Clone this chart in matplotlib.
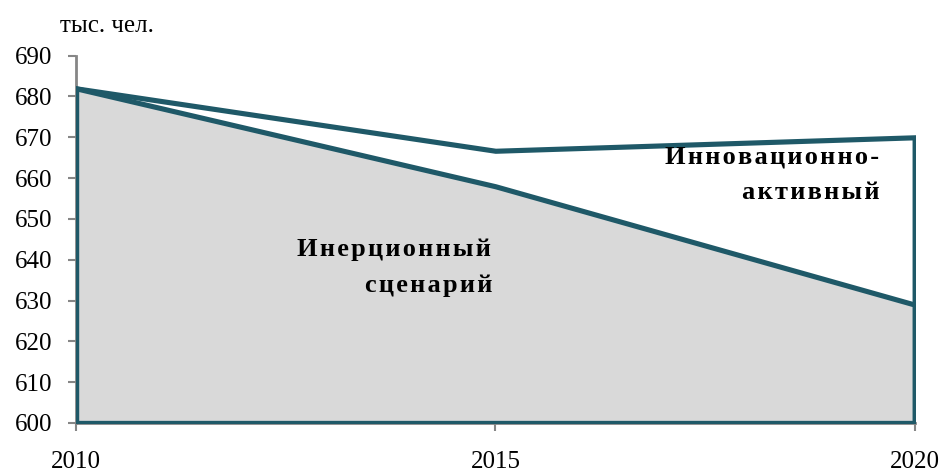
import matplotlib.pyplot as plt

years = [2010, 2015, 2020]
innovative = [682, 666.7, 670]
inertial = [682, 658, 629]
y_ticks = list(range(600, 691, 10))

teal = '#1f5968'
grey = '#d9d9d9'
axis_grey = '#868686'

plt.rcParams['font.family'] = ['Liberation Serif', 'DejaVu Serif']


def spaced(s):
    # the labels in the original have slightly wide letter spacing
    return '\u200a'.join(s)


fig = plt.figure(figsize=(9.4, 4.72), dpi=100)
ax = fig.add_axes([0.081, 0.104, 0.892, 0.778])

# innovation scenario behind, white fill
ax.fill_between(years, 600, innovative, facecolor='white', edgecolor=teal,
                linewidth=3.7, joinstyle='miter', zorder=2)
# inertial scenario on top, grey fill
ax.fill_between(years, 600, inertial, facecolor=grey, edgecolor=teal,
                linewidth=3.7, joinstyle='miter', zorder=3)

ax.set_xlim(2010, 2020)
ax.set_ylim(600, 690)
ax.set_yticks(y_ticks)
ax.set_xticks(years)

for s in ['top', 'right']:
    ax.spines[s].set_visible(False)
for s in ['left', 'bottom']:
    ax.spines[s].set_color(axis_grey)
    ax.spines[s].set_linewidth(2)
    ax.spines[s].set_zorder(1)

ax.tick_params(axis='y', direction='out', length=6, width=1.5, color=axis_grey,
               labelsize=18, pad=11)
ax.tick_params(axis='x', direction='out', length=6, width=1.5, color=axis_grey,
               labelsize=18, pad=14)

fig.text(0.064, 0.945, 'тыс. чел.', fontsize=18, ha='left', va='center')

lbl = dict(fontsize=19, fontweight='bold', ha='right', va='center')
ax.text(2014.95, 642.4, spaced('Инерционный'), **lbl)
ax.text(2014.97, 633.8, spaced('сценарий'), **lbl)
ax.text(2019.58, 665.2, spaced('Инновационно-'), **lbl)
ax.text(2019.58, 656.4, spaced('активный'), **lbl)

fig.savefig('out.png', dpi=100)
